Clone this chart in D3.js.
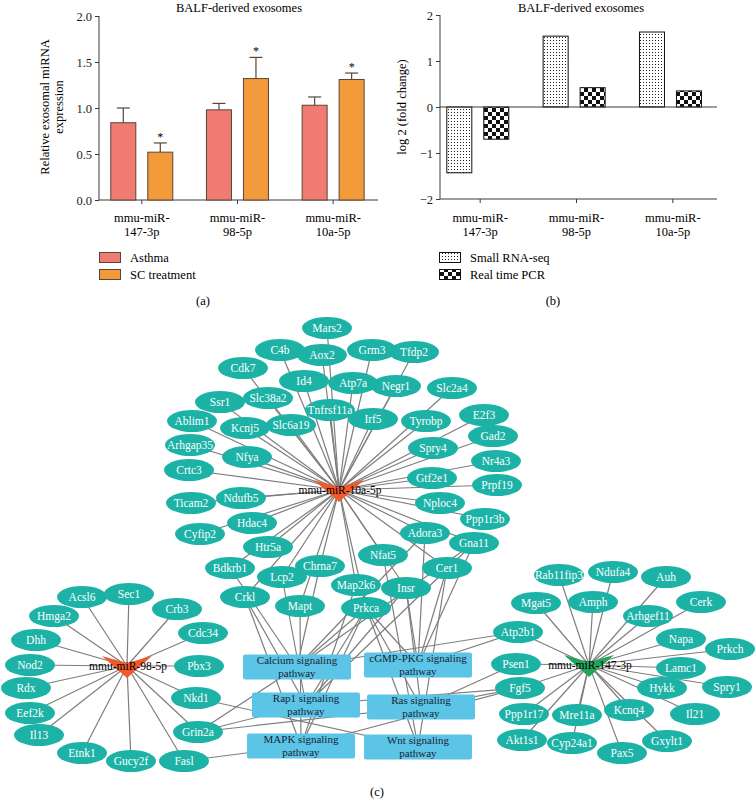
<!DOCTYPE html>
<html><head><meta charset="utf-8">
<script src="https://cdn.jsdelivr.net/npm/d3@7"></script>
<style>
body{margin:0;background:#fff}
svg{display:block}
text{font-family:"Liberation Serif","DejaVu Serif",serif}
</style>
</head><body>
<svg id="chart" width="756" height="808"></svg>
<script>
// ---------- DATA ----------
const categories = ["mmu-miR-147-3p", "mmu-miR-98-5p", "mmu-miR-10a-5p"];
const categoryLines = [["mmu-miR-", "147-3p"], ["mmu-miR-", "98-5p"], ["mmu-miR-", "10a-5p"]];
const asthmaValues = [0.84, 0.98, 1.03];
const asthmaErrors = [0.16, 0.07, 0.09];
const scValues = [0.52, 1.32, 1.31];
const scErrors = [0.10, 0.23, 0.07];
const scSignificant = [true, true, true];
const seqValues = [-1.43, 1.54, 1.63];
const pcrValues = [-0.70, 0.42, 0.35];
const ticksA = [0, 0.5, 1.0, 1.5, 2.0];
const ticksB = [-2, -1, 0, 1, 2];
const legendA = ["Asthma", "SC treatment"];
const legendB = ["Small RNA-seq", "Real time PCR"];
const titleText = "BALF-derived exosomes";

// network: hubs [name, layoutX, layoutY, colour key]
const hubs = [
  ["mmu-miR-10a-5p", 339, 490, "red"],
  ["mmu-miR-98-5p", 127, 666, "red"],
  ["mmu-miR-147-3p", 589, 665, "green"]
];
// target genes [name, layoutX, layoutY]
const genes10a = [
  ["Mars2",327,328],["C4b",280,350],["Aox2",322,355],["Grm3",372,350],["Tfdp2",414,352],
  ["Cdk7",243,368],["Id4",304,381],["Atp7a",353,383],["Negr1",396,386],["Slc2a4",452,388],
  ["Ssr1",220,402],["Slc38a2",268,398],["Tnfrsf11a",330,410],["Irf5",373,419],["Tyrobp",426,421],
  ["Ablim1",192,421],["Kcnj5",245,428],["Slc6a19",291,425],["Arhgap35",190,445],["Spry4",433,448],
  ["E2f3",484,415],["Gad2",493,436],["Nr4a3",496,461],["Gtf2e1",432,478],["Prpf19",497,485],
  ["Nploc4",440,503],["Ppp1r3b",485,519],["Nfya",247,457],["Crtc3",189,470],["Ndufb5",241,498],
  ["Ticam2",191,503],["Hdac4",252,523],["Cyfip2",200,534],["Htr5a",268,547],["Bdkrb1",230,568],
  ["Chrna7",320,566],["Lcp2",282,577],["Nfat5",383,555],["Adora3",425,533],["Gna11",474,543],
  ["Cer1",447,568],["Map2k6",356,585],["Insr",406,588],["Crkl",245,597],["Mapt",300,606],
  ["Prkca",366,608]
];
const genes98 = [
  ["Acsl6",82,597],["Sec1",129,594],["Hmga2",54,616],["Crb3",177,609],["Cdc34",203,633],
  ["Dhh",36,640],["Nod2",30,665],["Pbx3",199,666],["Rdx",26,688],["Nkd1",196,698],
  ["Eef2k",30,713],["Il13",39,735],["Grin2a",198,732],["Etnk1",82,753],["Gucy2f",131,761],
  ["Fasl",184,761]
];
const genes147 = [
  ["Rab11fip3",559,575],["Ndufa4",613,572],["Auh",666,577],["Mgat5",536,603],["Amph",593,602],
  ["Cerk",701,602],["Arhgef11",648,616],["Atp2b1",518,632],["Napa",681,639],["Prkch",730,649],
  ["Psen1",516,664],["Lamc1",681,668],["Fgf5",520,688],["Hykk",662,688],["Spry1",727,687],
  ["Ppp1r17",524,714],["Mre11a",577,715],["Kcnq4",629,710],["Il21",695,714],["Akt1s1",522,740],
  ["Cyp24a1",572,743],["Gxylt1",667,741],["Pax5",622,753]
];
// pathways [line1, line2, layoutX, layoutY]
const pathways = [
  ["Calcium signaling", "pathway", 297, 667],
  ["cGMP-PKG signaling", "pathway", 418, 665],
  ["Rap1 signaling", "pathway", 306, 705],
  ["Ras signaling", "pathway", 421, 707],
  ["MAPK signaling", "pathway", 301, 746],
  ["Wnt signaling", "pathway", 418, 747]
];
// gene -> pathway membership
const pathwayLinks = [
  ["Crkl","Rap1 signaling"],["Crkl","MAPK signaling"],
  ["Lcp2","Rap1 signaling"],["Bdkrb1","Calcium signaling"],["Chrna7","Calcium signaling"],
  ["Mapt","MAPK signaling"],["Map2k6","MAPK signaling"],
  ["Prkca","Calcium signaling"],["Prkca","cGMP-PKG signaling"],["Prkca","Rap1 signaling"],
  ["Prkca","Ras signaling"],["Prkca","MAPK signaling"],["Prkca","Wnt signaling"],
  ["Insr","cGMP-PKG signaling"],["Insr","Rap1 signaling"],["Insr","Ras signaling"],
  ["Nfat5","Wnt signaling"],["Cer1","Wnt signaling"],["Cer1","cGMP-PKG signaling"],
  ["Gna11","Calcium signaling"],["Gna11","cGMP-PKG signaling"],["Gna11","Rap1 signaling"],
  ["Adora3","Calcium signaling"],["Adora3","cGMP-PKG signaling"],
  ["Atp2b1","Calcium signaling"],["Atp2b1","cGMP-PKG signaling"],
  ["Psen1","Ras signaling"],
  ["Fgf5","Ras signaling"],["Fgf5","Rap1 signaling"],["Fgf5","MAPK signaling"],
  ["Nkd1","Wnt signaling"],
  ["Grin2a","Calcium signaling"],["Grin2a","Rap1 signaling"],["Grin2a","Ras signaling"],
  ["Fasl","MAPK signaling"]
];

// ---------- STYLE ----------
const colAsthma = "#F07B73", colSC = "#F39A3B", barStroke = "#5a4536";
const axisCol = "#3a3a3a";
const nodeCol = "#1CB2A6", boxCol = "#5CC4E6", edgeCol = "#7e7e7e";
const hubCols = {red: "#F1592A", green: "#22A55A"};

const svg = d3.select("#chart");
const defs = svg.append("defs");
const dots = defs.append("pattern").attr("id","dots").attr("patternUnits","userSpaceOnUse")
  .attr("width",3).attr("height",3);
dots.append("rect").attr("width",3).attr("height",3).attr("fill","#fff");
dots.append("rect").attr("x",1).attr("y",1).attr("width",1).attr("height",1).attr("fill","#222");
const checker = defs.append("pattern").attr("id","checker").attr("patternUnits","userSpaceOnUse")
  .attr("width",8).attr("height",8);
checker.append("rect").attr("width",8).attr("height",8).attr("fill","#fff");
checker.append("rect").attr("width",4).attr("height",4).attr("fill","#111");
checker.append("rect").attr("x",4).attr("y",4).attr("width",4).attr("height",4).attr("fill","#111");

const fs = 12.5;

// ---------- PANEL A ----------
const xA = d3.scaleBand(categories, [94, 381]);
const inner = d3.scaleBand(["s1","s2"], [16.8, 78.8]).paddingInner(0.324);
const yA = d3.scaleLinear([0, 2], [200, 16]);
const gA = svg.append("g");

gA.append("text").attr("x", 239).attr("y", 12).attr("text-anchor","middle")
  .attr("font-size", 12.5).text(titleText);

const axA = gA.append("g").attr("transform","translate(99,0)")
  .call(d3.axisLeft(yA).tickValues(ticksA).tickFormat(d3.format(".1f")).tickSize(4).tickSizeOuter(0));
axA.selectAll("path,line").attr("stroke", axisCol);
axA.selectAll("text").attr("font-size", fs).attr("fill","#222").attr("font-family","Liberation Serif");
axA.select(".domain").attr("d","M0,"+yA(2)+"V"+yA(0));

const bxA = gA.append("g").attr("transform","translate(0,"+yA(0)+")")
  .call(d3.axisBottom(xA).tickSize(4).tickFormat(""));
bxA.selectAll("path,line").attr("stroke", axisCol);
bxA.select(".domain").attr("d","M99,0H378");

const seriesA = [
  {key:"s1", vals: asthmaValues, errs: asthmaErrors, fill: colAsthma},
  {key:"s2", vals: scValues, errs: scErrors, fill: colSC}
];
seriesA.forEach(s => {
  categories.forEach((c, i) => {
    const x0 = xA(c) + inner(s.key), bw = inner.bandwidth(), cx = x0 + bw/2;
    const top = yA(s.vals[i] + s.errs[i]);
    gA.append("line").attr("x1",cx).attr("x2",cx).attr("y1",yA(s.vals[i])).attr("y2",top)
      .attr("stroke", barStroke).attr("stroke-width",1.2);
    gA.append("line").attr("x1",cx-6.5).attr("x2",cx+6.5).attr("y1",top).attr("y2",top)
      .attr("stroke", barStroke).attr("stroke-width",1.2);
    gA.append("rect").attr("x",x0).attr("y",yA(s.vals[i])).attr("width",bw)
      .attr("height", yA(0) - yA(s.vals[i])).attr("fill", s.fill)
      .attr("stroke", barStroke).attr("stroke-width",1);
    if (s.key === "s2" && scSignificant[i]) {
      gA.append("text").attr("x",cx).attr("y",top-2).attr("text-anchor","middle")
        .attr("font-size",12).text("*");
    }
  });
});
categories.forEach((c, i) => {
  const cx = xA(c) + xA.bandwidth()/2;
  categoryLines[i].forEach((t, j) => {
    gA.append("text").attr("x",cx).attr("y",222 + j*14).attr("text-anchor","middle")
      .attr("font-size",fs).text(t);
  });
});
const ylabA = gA.append("text").attr("transform","translate(49,107) rotate(-90)")
  .attr("text-anchor","middle").attr("font-size",fs);
ylabA.append("tspan").attr("x",0).attr("y",0).text("Relative exosomal miRNA");
ylabA.append("tspan").attr("x",0).attr("y",14).text("expression");

legendA.forEach((t, i) => {
  gA.append("rect").attr("x",99.5).attr("y",252.5 + i*17).attr("width",21).attr("height",10)
    .attr("fill", i ? colSC : colAsthma).attr("stroke", barStroke);
  gA.append("text").attr("x",130).attr("y",261.5 + i*17).attr("font-size",fs).text(t);
});
gA.append("text").attr("x",203).attr("y",305).attr("text-anchor","middle").attr("font-size",fs).text("(a)");

// ---------- PANEL B ----------
const xB = d3.scaleBand(categories, [432, 721]);
const yB = d3.scaleLinear([-2, 2], [199, 15]);
const gB = svg.append("g");
gB.append("text").attr("x", 581).attr("y", 12).attr("text-anchor","middle")
  .attr("font-size", 12.5).text(titleText);
const axB = gB.append("g").attr("transform","translate(440,0)")
  .call(d3.axisLeft(yB).tickValues(ticksB).tickFormat(d3.format("d")).tickSize(4).tickSizeOuter(0));
axB.selectAll("path,line").attr("stroke", axisCol);
axB.selectAll("text").attr("font-size", fs).attr("fill","#222").attr("font-family","Liberation Serif");
axB.select(".domain").attr("d","M0,"+yB(2)+"V"+yB(-2));
const bxB = gB.append("g").attr("transform","translate(0,"+yB(-2)+")")
  .call(d3.axisBottom(xB).tickSize(4).tickFormat(""));
bxB.selectAll("path,line").attr("stroke", axisCol);
bxB.select(".domain").attr("d","M440,0H717");

const seriesB = [
  {key:"s1", vals: seqValues, fill: "url(#dots)"},
  {key:"s2", vals: pcrValues, fill: "url(#checker)"}
];
seriesB.forEach(s => {
  categories.forEach((c, i) => {
    const x0 = xB(c) + inner(s.key) - 2, v = s.vals[i];
    gB.append("rect").attr("x",x0).attr("y",yB(Math.max(0,v))).attr("width",inner.bandwidth())
      .attr("height",Math.abs(yB(v)-yB(0))).attr("fill",s.fill)
      .attr("stroke","#111").attr("stroke-width",1);
  });
});
gB.append("line").attr("x1",440).attr("x2",717).attr("y1",yB(0)).attr("y2",yB(0))
  .attr("stroke",axisCol).attr("stroke-width",1.2);
categories.forEach((c, i) => {
  const cx = xB(c) + xB.bandwidth()/2;
  categoryLines[i].forEach((t, j) => {
    gB.append("text").attr("x",cx).attr("y",222 + j*14).attr("text-anchor","middle")
      .attr("font-size",fs).text(t);
  });
});
gB.append("text").attr("transform","translate(406,107) rotate(-90)")
  .attr("text-anchor","middle").attr("font-size",fs).text("log 2 (fold change)");
legendB.forEach((t, i) => {
  gB.append("rect").attr("x",439.5).attr("y",252.5 + i*17).attr("width",21).attr("height",10)
    .attr("fill", i ? "url(#checker)" : "url(#dots)").attr("stroke","#111");
  gB.append("text").attr("x",470).attr("y",261.5 + i*17).attr("font-size",fs).text(t);
});
gB.append("text").attr("x",553).attr("y",305).attr("text-anchor","middle").attr("font-size",fs).text("(b)");

// ---------- PANEL C : network ----------
const nx = d3.scaleLinear([0, 756], [0, 756]);
const ny = d3.scaleLinear([0, 808], [0, 808]);
const gC = svg.append("g");
const hubMap = new Map(hubs.map(h => [h[0], h]));
const geneList = [
  ...genes10a.map(g => ({name:g[0], hub:"mmu-miR-10a-5p", x:g[1], y:g[2]})),
  ...genes98.map(g => ({name:g[0], hub:"mmu-miR-98-5p", x:g[1], y:g[2]})),
  ...genes147.map(g => ({name:g[0], hub:"mmu-miR-147-3p", x:g[1], y:g[2]}))
];
const geneMap = new Map(geneList.map(g => [g.name, g]));
const pwMap = new Map(pathways.map(p => [p[0], p]));

const edges = gC.append("g").attr("stroke", edgeCol).attr("stroke-width", 1.2);
geneList.forEach(g => {
  const h = hubMap.get(g.hub);
  edges.append("line").attr("x1",nx(h[1])).attr("y1",ny(h[2]))
    .attr("x2",nx(g.x)).attr("y2",ny(g.y));
});
pathwayLinks.forEach(([gn, pn]) => {
  const g = geneMap.get(gn), p = pwMap.get(pn);
  edges.append("line").attr("x1",nx(g.x)).attr("y1",ny(g.y))
    .attr("x2",nx(p[2])).attr("y2",ny(p[3]));
});

const nodes = gC.append("g");
geneList.forEach(g => {
  nodes.append("ellipse").attr("cx",nx(g.x)).attr("cy",ny(g.y)).attr("rx",25).attr("ry",11)
    .attr("fill",nodeCol);
  nodes.append("text").attr("x",nx(g.x)).attr("y",ny(g.y)+4).attr("text-anchor","middle")
    .attr("font-size",11.5).attr("fill","#fff").text(g.name);
});

pathways.forEach(p => {
  const cx = nx(p[2]), cy = ny(p[3]);
  gC.append("rect").attr("x",cx-54).attr("y",cy-12.5).attr("width",108).attr("height",25)
    .attr("rx",2).attr("fill",boxCol);
  gC.append("text").attr("x",cx).attr("y",cy-3.5).attr("text-anchor","middle")
    .attr("font-size",11).attr("fill","#1a2533").text(p[0]);
  gC.append("text").attr("x",cx).attr("y",cy+9.5).attr("text-anchor","middle")
    .attr("font-size",11).attr("fill","#1a2533").text(p[1]);
});

hubs.forEach(h => {
  const cx = nx(h[1]), cy = ny(h[2]);
  gC.append("path").attr("d", `M${cx-25},${cy-10}L${cx},${cy-3}L${cx+25},${cy-10}L${cx},${cy+12}Z`)
    .attr("fill", hubCols[h[3]]);
});
hubs.forEach(h => {
  gC.append("text").attr("x",nx(h[1])+1).attr("y",ny(h[2])+4).attr("text-anchor","middle")
    .attr("font-size",11.5).attr("fill","#000").text(h[0]);
});
gC.append("text").attr("x",377).attr("y",796).attr("text-anchor","middle").attr("font-size",fs).text("(c)");
</script>
</body></html>
